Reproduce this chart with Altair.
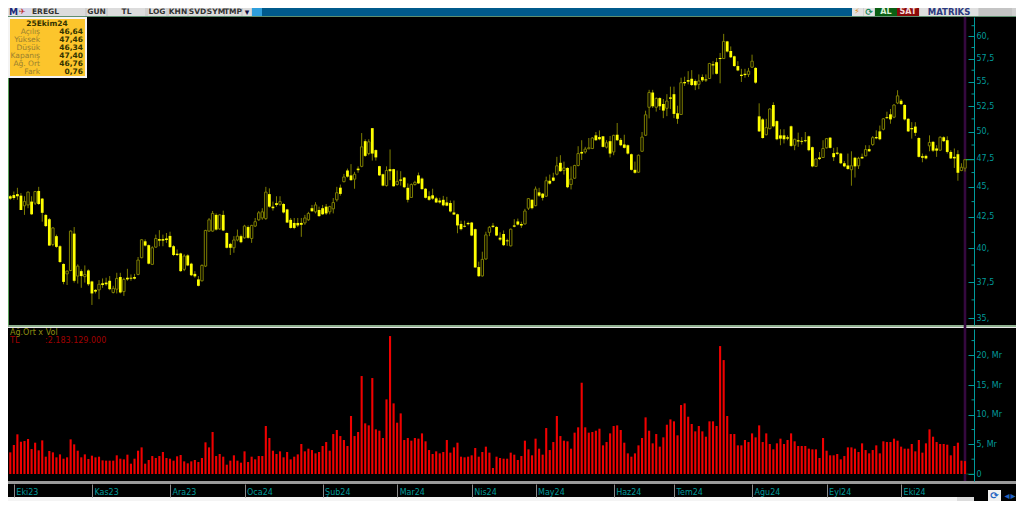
import altair as alt
import pandas as pd

highs = [44.3,44.6,44.92,44.47,44.2,44.6,44.2,44.65,45.0,44.05,
42.7,42.4,41.67,41.07,40.25,38.87,38.35,41.4,41.67,38.8,
38.43,38.72,38.43,37.6,37.0,37.65,37.77,37.82,37.94,37.24,
38.18,38.18,37.82,38.47,38.06,38.1,39.35,40.72,40.7,40.3,
40.17,41.07,41.42,41.07,41.2,41.3,40.25,39.92,39.67,39.55,
39.55,38.92,38.3,37.94,38.8,41.45,42.4,42.97,42.77,42.7,
43.0,41.25,40.43,40.95,41.47,41.07,41.85,41.8,41.85,42.4,
42.97,43.2,45.0,44.87,43.75,44.2,44.2,43.62,43.15,42.4,
42.4,42.4,42.4,42.65,42.9,43.47,43.7,43.33,43.47,43.55,
43.4,44.05,45.0,45.2,
46.13,46.6,47.0,46.31,46.8,49.88,
49.29,49.29,50.35,48.34,46.85,46.15,46.8,48.34,46.58,46.43,
46.37,45.86,45.3,45.3,45.53,46.25,45.81,44.89,44.62,44.84,
44.15,44.07,44.23,44.15,43.84,43.84,42.75,42.18,42.18,42.1,
42.08,41.55,39.0,39.75,41.3,41.75,42.0,41.73,41.25,41.4,
40.75,41.55,42.3,42.35,42.1,43.15,44.05,43.95,45.03,44.92,
44.47,45.89,46.07,46.23,47.66,47.81,47.23,46.72,46.8,46.94,
48.64,49.2,48.58,49.41,49.5,49.98,50.13,49.6,49.2,49.6,
49.72,50.85,49.41,49.72,48.8,47.96,47.23,47.87,49.98,52.06,
54.18,54.18,53.4,53.4,53.23,53.73,54.51,54.51,52.56,55.45,
55.56,56.15,56.26,55.27,55.8,55.8,55.8,57.05,57.23,57.58,
58.14,60.3,59.5,58.87,57.84,57.23,56.4,56.4,56.5,57.95,
56.58,52.8,51.32,51.26,52.3,52.9,51.1,50.24,50.24,49.66,
50.6,49.35,49.92,49.5,49.98,49.63,48.6,47.52,48.11,49.2,
49.41,49.5,48.49,48.55,48.02,47.28,47.96,48.17,47.66,47.66,
47.96,48.73,48.73,49.6,50.14,50.6,51.32,51.96,52.23,52.72,
54.14,53.23,52.72,51.32,50.93,50.93,49.48,47.96,47.87,49.66,
49.11,48.73,49.57,49.57,49.57,48.27,48.43,48.27,47.08,47.46]

opens = [44.2,44.3,44.38,44.25,43.4,43.47,43.75,43.62,44.65,44.0,
42.65,42.3,40.3,40.95,40.17,38.83,38.1,38.35,41.15,37.94,
38.3,37.9,38.35,37.55,36.95,36.95,37.42,37.47,37.6,36.77,
37.0,37.87,36.83,37.82,37.82,37.87,38.06,39.3,40.55,40.25,
38.8,40.1,40.72,40.72,40.77,40.97,40.17,39.6,39.62,38.43,
39.47,38.85,38.1,37.7,37.6,38.67,41.35,41.35,42.65,41.52,
42.65,41.2,40.35,40.05,40.65,40.95,40.82,41.67,40.77,41.75,
42.25,42.4,42.35,44.38,43.33,43.62,43.52,43.55,43.1,42.25,
42.0,42.0,42.0,42.0,42.25,43.2,42.9,43.05,43.2,43.33,
42.9,43.15,43.9,44.93,
45.45,46.43,46.0,45.67,46.6,46.8,
49.11,47.96,50.35,48.28,46.82,46.1,45.11,46.55,46.55,45.2,
45.64,45.81,44.92,44.1,45.2,46.0,45.72,44.84,44.2,44.28,
44.02,43.84,43.9,43.68,43.63,42.85,42.7,41.92,41.77,42.0,
42.03,41.5,38.6,37.95,39.2,41.25,41.78,41.68,40.83,41.12,
40.62,40.2,41.8,42.12,41.92,41.92,43.2,43.9,43.41,44.53,
44.42,44.2,45.53,45.81,46.1,47.12,46.43,46.66,45.2,45.75,
46.88,48.11,48.11,48.4,48.43,49.66,49.5,49.57,48.55,49.11,
48.11,49.72,49.23,48.8,48.73,47.9,46.49,46.28,48.17,49.67,
52.4,53.9,52.4,53.33,52.73,52.3,53.4,53.73,51.8,51.68,
55.0,55.2,55.34,55.1,54.75,55.52,55.27,55.37,56.9,57.12,
57.58,57.52,59.44,58.36,57.77,56.7,55.77,55.87,55.8,56.58,
56.5,51.5,51.2,49.72,50.3,52.63,51.03,49.66,49.66,49.48,
50.53,48.73,49.2,49.14,49.2,49.57,48.55,46.8,47.6,47.6,
48.49,49.44,48.0,48.05,47.96,47.08,46.88,46.5,47.58,46.85,
47.66,47.75,48.37,48.8,49.5,50.04,50.24,51.42,51.7,51.42,
52.83,53.06,52.63,51.26,50.36,50.5,49.41,47.72,47.75,48.67,
49.05,48.43,48.27,49.48,49.2,48.11,47.66,47.9,46.43,46.64]

closes = [44.0,44.05,44.2,43.05,43.75,44.55,42.7,44.6,43.55,42.82,
41.75,40.22,41.6,40.12,38.97,37.52,38.3,41.35,37.6,38.67,
37.94,38.06,37.35,36.7,36.83,37.35,37.3,37.35,37.0,37.06,
37.77,36.77,37.7,37.7,37.75,37.75,39.12,40.67,40.22,38.85,
40.05,40.77,40.6,40.6,40.65,40.1,39.5,39.5,38.3,39.42,
38.72,38.0,37.92,37.24,38.72,41.4,42.25,42.77,41.47,42.65,
41.4,40.05,40.05,40.65,40.95,40.48,41.75,40.82,41.8,42.1,
42.82,42.9,44.55,43.33,43.2,43.47,43.75,42.85,42.03,41.6,
41.6,41.8,41.85,42.4,42.77,42.95,43.47,42.55,42.7,42.77,
43.33,43.67,44.5,44.4,
45.86,45.89,45.58,46.1,46.46,48.58,
47.75,49.05,47.96,47.61,46.0,45.11,46.43,46.37,45.05,45.48,
45.53,44.97,43.9,45.2,45.39,45.3,44.81,44.07,43.9,44.0,
43.68,43.68,43.44,43.41,42.93,42.68,41.8,41.5,41.7,41.9,
41.0,38.57,37.93,39.17,41.05,41.65,41.68,41.0,40.68,40.25,
40.55,41.5,41.7,41.87,41.8,42.97,44.0,43.2,44.81,44.25,
44.07,45.53,45.28,45.53,46.85,46.37,46.66,44.97,45.67,46.88,
47.96,47.96,48.37,48.49,49.41,49.2,49.29,48.58,48.96,47.96,
49.66,49.2,48.73,48.49,47.96,46.49,46.23,47.81,49.5,51.65,
53.9,52.5,53.3,52.5,52.07,53.03,53.26,51.74,51.26,54.93,
54.86,55.03,54.68,54.65,55.1,55.17,55.17,56.98,56.77,55.87,
57.47,59.44,58.3,57.66,56.7,56.23,55.63,55.73,56.15,57.23,
54.93,50.04,49.41,50.4,52.23,50.53,49.29,49.35,49.29,49.35,
48.67,49.29,49.08,49.05,49.11,48.27,46.8,47.46,47.46,48.43,
49.35,48.49,47.63,47.93,47.08,46.8,46.57,46.85,46.8,47.52,
47.52,48.33,48.17,49.44,49.38,49.29,51.26,51.32,51.2,52.63,
53.56,52.72,51.2,50.04,50.24,49.9,47.66,47.58,47.52,48.99,
48.23,48.23,49.48,49.11,48.11,47.52,47.52,46.23,46.72,47.4]

lows = [43.9,43.9,43.9,43.05,42.65,43.2,42.65,43.47,43.47,42.1,
41.67,40.22,40.17,40.05,38.92,37.35,37.3,38.3,37.47,37.4,
37.1,37.47,37.24,35.9,36.7,36.3,37.1,37.24,36.93,36.7,
36.7,36.7,36.53,37.6,37.6,37.7,38.0,39.25,40.15,38.8,
38.75,40.05,40.17,40.17,40.43,40.05,39.42,39.42,38.25,38.3,
38.67,37.94,37.82,37.2,37.55,38.6,41.3,41.3,41.4,41.45,
41.35,40.0,39.5,39.67,40.55,40.4,40.75,40.75,40.43,41.67,
42.17,42.25,42.25,43.25,43.0,43.33,43.4,42.77,42.0,41.55,
41.5,41.67,40.9,41.85,42.17,42.9,42.77,42.5,42.65,42.65,
42.7,42.77,43.75,44.25,
45.39,45.81,45.53,44.84,46.23,46.72,
47.66,47.81,47.32,47.32,45.95,45.05,45.03,45.58,45.03,45.11,
45.11,44.89,43.68,44.05,45.11,45.25,44.75,44.02,43.82,43.9,
43.63,43.58,43.36,43.36,42.85,42.65,41.18,41.4,41.65,41.8,
40.95,38.55,37.88,37.9,39.15,40.95,41.6,40.95,40.58,40.18,
40.2,40.15,41.65,41.8,41.6,41.87,43.05,43.1,43.36,44.15,
43.84,44.15,45.2,45.48,46.0,46.31,46.07,44.89,44.78,45.7,
46.8,47.38,47.96,48.37,48.37,49.14,49.2,48.52,48.43,47.61,
47.81,49.14,48.64,48.43,47.87,46.43,46.15,46.23,48.11,49.6,
51.3,52.33,51.97,52.13,51.32,51.52,52.23,51.32,50.77,51.65,
54.58,54.75,54.58,54.15,54.25,55.0,55.0,55.34,55.8,55.8,
54.86,57.47,58.2,57.58,56.63,56.15,55.0,55.45,55.52,56.5,
54.82,49.98,49.35,49.66,50.24,50.43,49.2,48.73,48.9,49.2,
48.58,48.27,48.58,48.8,49.0,48.17,46.72,46.75,47.37,47.58,
48.43,48.43,47.28,47.81,47.0,46.72,46.5,45.1,45.81,46.57,
47.46,47.72,48.11,48.67,49.29,49.2,50.14,51.26,50.78,51.32,
52.72,52.63,51.1,49.98,49.35,49.6,47.6,47.17,47.43,48.17,
48.11,47.66,48.2,49.05,47.96,47.46,46.66,45.53,46.37,46.34]

volumes = [3.65,4.89,6.69,5.45,5.56,5.9,4.21,5.28,3.99,5.67,
2.92,3.88,3.65,2.81,3.31,2.58,2.81,5.84,5.0,3.93,
2.81,3.31,2.53,3.09,2.81,2.92,2.3,2.25,2.25,2.25,
3.15,2.58,2.47,3.26,1.74,2.58,3.93,4.49,1.74,2.36,
3.03,2.7,3.03,3.71,2.7,2.58,2.25,2.98,3.2,2.13,
1.8,2.13,2.36,2.02,2.7,5.34,4.49,7.08,3.03,3.37,
2.92,1.57,2.25,3.15,2.25,1.91,3.82,2.02,2.92,2.47,
3.03,3.03,8.09,6.07,3.93,3.37,3.82,2.81,3.71,2.47,
2.92,3.31,5.06,3.82,4.27,4.04,3.48,3.71,4.72,5.39,
3.93,6.74,7.42,6.4,
5.73,4.72,9.78,6.4,7.08,16.52,8.54,8.2,16.18,
7.53,7.3,6.07,12.58,23.26,11.91,8.65,10.22,5.73,6.07,
5.62,6.07,5.96,6.85,5.51,4.04,3.37,3.82,3.48,3.71,
5.73,3.6,4.49,5.28,2.92,2.81,2.92,3.15,4.38,2.92,
3.71,4.61,3.6,1.01,2.92,2.7,2.58,2.58,3.6,3.26,
2.36,3.03,5.62,4.16,3.15,5.96,4.27,3.26,7.75,4.04,
5.39,9.78,6.4,5.62,5.51,4.27,6.97,7.87,15.39,7.87,
6.97,7.08,7.3,7.64,4.83,5.39,6.85,8.09,8.2,7.42,
5.28,3.48,2.92,3.48,4.83,6.07,9.55,7.3,5.17,6.74,
4.61,6.18,8.31,9.21,8.88,6.52,11.63,
11.91,9.66,8.43,7.19,8.09,7.19,6.29,8.88,8.88,8.09,
21.57,19.21,9.78,6.74,6.74,4.83,4.83,5.73,5.39,6.85,
6.18,8.2,5.39,6.85,5.06,4.16,5.17,5.96,5.06,5.73,
6.85,5.51,4.72,4.72,4.72,4.27,4.16,4.16,2.7,6.07,
3.93,3.15,3.15,3.37,2.47,3.03,4.49,4.49,4.27,3.71,
5.17,4.04,3.48,4.04,4.83,3.48,5.51,5.39,5.39,5.96,
5.62,4.61,4.27,4.27,5.06,3.82,5.73,3.6,5.17,7.53,
6.29,5.39,5.06,5.06,4.94,3.15,4.72,5.28,2.25,2.18]

month_labels = ["Eki23","Kas23","Ara23","Oca24","Şub24","Mar24","Nis24","May24","Haz24","Tem24","Ağu24","Eyl24","Eki24"]
month_starts = [1,23,45,66,88,109,130,148,170,187,209,230,251]
price_ticks = [35,37.5,40,42.5,45,47.5,50,52.5,55,57.5,60]
price_minor = [36.25,38.75,41.25,43.75,46.25,48.75,51.25,53.75,56.25,58.75,61.25]
vol_ticks = [0,5,10,15,20]
vol_minor = [2.5,7.5,12.5,17.5,22.5]
info_labels = ["Açılış","Yüksek","Düşük","Kapanış","Ağ. Ort","Fark"]
info_values = ["46,64","47,46","46,34","47,40","46,76","0,76"]
buttons = [("GUN",87,106),("TL",108,145),("LOG",148,166),("KHN",169,187),("SVD",189,206),("SYM",208,224),("TMP",225,241)]

n = len(volumes)
candles = pd.DataFrame({"i": range(n), "o": opens, "h": highs, "l": lows, "c": closes, "v": volumes})
up = candles[candles.c >= candles.o]
down = candles[candles.c < candles.o]

W, H = 1008, 493
step = (965 - 10.3) / (n - 1)
x0 = 2.3
xscale = alt.Scale(domain=[-x0 / step, (W - x0) / step], range=[0, W], nice=False, zero=False, padding=0)
pscale = alt.Scale(type="log", domain=[34.55, 62.28], range=[317, 9], nice=False)
vscale = alt.Scale(domain=[-1.18, 24.45], range=[473, 321], nice=False, zero=False)
TEAL = "#009a9a"
one = pd.DataFrame({"a": [0]})

def box(x1, y1, x2, y2, color):
    return alt.Chart(one).mark_rect(color=color).encode(
        x=alt.value(x1 - 8), x2=alt.value(x2 - 8), y=alt.value(y1 - 8), y2=alt.value(y2 - 8))

def txt(x, y, s, color, size=8, align="left", weight="normal"):
    return alt.Chart(one).mark_text(color=color, fontSize=size, align=align, baseline="middle",
                                    fontWeight=weight, font="DejaVu Sans").encode(
        x=alt.value(x - 8), y=alt.value(y - 8), text=alt.value(s))

chrome = [
    box(9, 17, 1016, 325, "#000000"),
    box(8, 17, 9, 326, "#5aa05a"),
    box(8, 325, 1016, 327, "#8fb08f"),
    box(8, 327, 1016, 328, "#e8e8e8"),
    box(8, 328, 1016, 481, "#000000"),
    box(8, 481, 1016, 484, "#9a9a9a"),
    box(8, 484, 1016, 497, "#000000"),
    box(8, 497, 957, 501, "#f4f4f4"),
    box(957, 497, 974, 501, "#dcdcdc"),
    box(974, 497, 1016, 501, "#000000"),
    box(262, 8, 852, 16, "#005a8c"),
    box(8, 16, 1016, 17, "#5f8f6f"),
    box(8, 8, 17, 16, "#e4e4e4"),
    box(18, 8, 31, 16, "#d8d8e8"),
    box(31, 8, 85, 16, "#dcdcdc"),
    box(243, 8, 251, 16, "#dcdcdc"),
    box(252, 8, 262, 16, "#2f9fdc"),
    box(852, 8, 863, 16, "#e2e2e2"),
    box(864, 8, 874, 16, "#e2e2e2"),
    box(875, 8, 897, 16, "#0a5f14"),
    box(897, 8, 919, 16, "#8b0a0a"),
    box(920, 8, 978, 16, "#dfdfdf"),
    box(979, 8, 1012, 16, "#c4c4c4"),
    box(988, 490, 1001, 501, "#f0f0f0"),
]
for name, a, b in buttons:
    chrome.append(box(a, 8, b, 16, "#dcdcdc"))
    chrome.append(txt((a + b) / 2, 11.5, name, "#333333", 7.5, "center", "bold"))
chrome += [
    txt(9, 11.5, "M", "#1a2a7a", 9, "left", "bold"),
    txt(19, 11.5, "✈", "#c03030", 8),
    txt(32, 11.5, "EREGL", "#333333", 7.5, "left", "bold"),
    txt(247, 11.5, "▾", "#111144", 9, "center"),
    txt(857, 11.5, "⚡", "#e08a10", 8, "center"),
    txt(869, 11.5, "⟳", "#1a8a5a", 9, "center", "bold"),
    txt(886, 11.5, "AL", "#d8f0d8", 8, "center", "bold"),
    txt(908, 11.5, "SAT", "#f4d8d8", 8, "center", "bold"),
    txt(949, 11.5, "MATRİKS", "#2c3a80", 8.5, "center", "bold"),
    txt(994.5, 496, "⟳", "#2060c0", 10, "center", "bold"),
    txt(1007, 496, "◂", "#2060c0", 10, "center"),
    txt(1013, 496, "▸", "#2060c0", 10, "center"),
    box(8, 17, 87, 78, "#f4f4f4"),
    box(10, 19, 85, 76, "#fcc52c"),
    txt(47, 23.5, "25Ekim24", "#333300", 7.5, "center", "bold"),
    txt(10, 333, "Ağ.Ort x Vol", "#8f8f10", 8),
    txt(10, 340.5, "TL", "#a00000", 8),
    txt(45, 340.5, ":2.183.129.000", "#a00000", 8),
]
for k, lab in enumerate(info_labels):
    y = 32 + 8 * k
    chrome.append(txt(40, y - 0.5, lab, "#9a8030", 7.5, "right"))
    chrome.append(txt(83, y - 0.5, info_values[k], "#333300", 7.5, "right", "bold"))

cursor = alt.Chart(one).mark_rule(color="#35093f", strokeWidth=2.6).encode(
    x=alt.value(965 - 8), y=alt.value(17 - 8), y2=alt.value(481 - 8))

price_label = "replace(datum.value + '', '.', ',') + (datum.value % 5 == 0 ? ',' : '')"
paxis = alt.Axis(orient="left", offset=-(974 - 8), values=price_ticks, tickSize=6, labelAlign="left",
                 labelPadding=-8, labelBaseline="middle", labelColor=TEAL, tickColor=TEAL, domainColor=TEAL,
                 labelFont="DejaVu Sans", labelFontSize=8, labelExpr=price_label, grid=False, title=None,
                 zindex=1, labelBound=False, labelFlush=False, labelOverlap=False)
vaxis = alt.Axis(orient="left", offset=-(974 - 8), values=vol_ticks, tickSize=6, labelAlign="left",
                 labelPadding=-8, labelBaseline="middle", labelColor=TEAL, tickColor=TEAL, domainColor=TEAL,
                 labelFont="DejaVu Sans", labelFontSize=8, grid=False, title=None, zindex=1,
                 labelExpr="datum.value == 0 ? '0' : datum.value + ', Mr'",
                 labelBound=False, labelFlush=False, labelOverlap=False)
labs = "[" + ",".join("'%s'" % m for m in month_labels) + "]"
ticks = "[" + ",".join(str(m) for m in month_starts) + "]"
xaxis = alt.Axis(orient="bottom", offset=-(501 - 484), values=month_starts, tickSize=13, tickColor="#8a8a8a", domain=False,
                 labelAlign="left", labelBaseline="middle", labelPadding=-5, labelOffset=2, labelColor=TEAL,
                 labelFont="DejaVu Sans", labelFontSize=8, labelExpr=labs + "[indexof(" + ticks + ", datum.value)]",
                 grid=False, title=None, zindex=1, labelBound=False, labelFlush=False, labelOverlap=False)
xq = alt.X("i:Q", scale=xscale, axis=xaxis)

OLIVE = "#7d7d00"
wicks = alt.Chart(candles).mark_rule(color=OLIVE, strokeWidth=1).encode(
    x=xq, y=alt.Y("h:Q", scale=pscale, axis=paxis), y2="l:Q")
solid = alt.Chart(down).mark_bar(color="#ffff00", size=2.8, orient="vertical").encode(
    x=xq, y=alt.Y("o:Q", scale=pscale, axis=paxis), y2="c:Q")
hollow = alt.Chart(up).mark_bar(color="#000000", stroke=OLIVE, strokeWidth=1, size=2.4, orient="vertical").encode(
    x=xq, y=alt.Y("c:Q", scale=pscale, axis=paxis), y2="o:Q")
pminor = alt.Chart(pd.DataFrame({"t": price_minor})).mark_rule(color=TEAL).encode(
    y=alt.Y("t:Q", scale=pscale, axis=paxis), x=alt.value(971.5 - 8), x2=alt.value(974 - 8))
plast = alt.Chart(pd.DataFrame({"t": closes[-1:]})).mark_rule(color="#27d060").encode(
    y=alt.Y("t:Q", scale=pscale, axis=paxis), x=alt.value(966 - 8), x2=alt.value(974 - 8))
price = alt.layer(wicks, solid, hollow, pminor, plast)

bars = alt.Chart(candles).mark_bar(color="#f00000", size=2.1, orient="vertical").encode(
    x=xq, y=alt.Y("v:Q", scale=vscale, axis=vaxis))
vminor = alt.Chart(pd.DataFrame({"t": vol_minor})).mark_rule(color=TEAL).encode(
    y=alt.Y("t:Q", scale=vscale, axis=vaxis), x=alt.value(971.5 - 8), x2=alt.value(974 - 8))
vzero = alt.Chart(pd.DataFrame({"t": [0]})).mark_rule(color="#0b4f14").encode(
    y=alt.Y("t:Q", scale=vscale, axis=vaxis), x=alt.value(966 - 8), x2=alt.value(974 - 8))
volume = alt.layer(bars, vminor, vzero)

chart = alt.layer(*chrome, cursor, price, volume).resolve_scale(y="independent").properties(
    width=W, height=H, autosize=alt.AutoSizeParams(type="none"), padding=0, background="#cfcfcf"
).configure_view(stroke=None)

chart.save("out.html", embed_options={"renderer": "svg", "actions": False})
